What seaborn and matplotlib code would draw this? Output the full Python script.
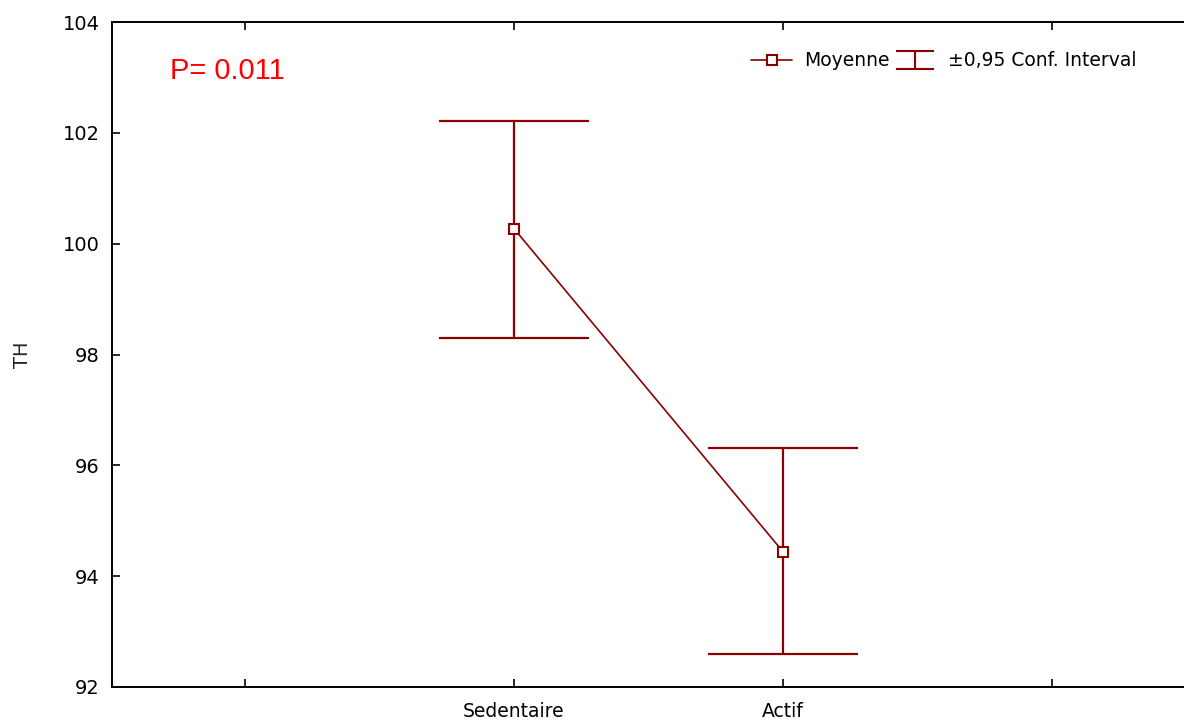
import matplotlib
matplotlib.use("Agg")
import matplotlib.pyplot as plt
from matplotlib.lines import Line2D
from matplotlib.path import Path
import numpy as np
import pandas as pd
import seaborn as sns

# Group means of TH with their 95% confidence limits
groups = ["Sedentaire", "Actif"]
means = [100.27, 94.44]
ci_low = [98.30, 92.60]
ci_high = [102.21, 96.31]
p_label = "P= 0.011"

# Category slots on the x axis (empty slots at both ends)
x_ticks = [0, 1, 2, 3]
x_tick_labels = ["", "Sedentaire", "Actif", ""]
y_ticks = [92, 94, 96, 98, 100, 102, 104]

sns.set_style("white")
plt.rcParams["font.family"] = ["DejaVu Sans"]

dark_red = "#8b0000"

fig = plt.figure(figsize=(11.84, 7.22), dpi=100)
ax = fig.add_axes([112 / 1184, 1 - 687 / 722, 1 - 112 / 1184, 665 / 722])

df = pd.DataFrame({"x": [1, 2], "group": groups, "mean": means,
                   "low": ci_low, "high": ci_high})

sns.lineplot(data=df, x="x", y="mean", ax=ax, color=dark_red, linewidth=1.2,
             marker="s", markersize=7, markerfacecolor="white",
             markeredgecolor=dark_red, markeredgewidth=1.5, zorder=3)

yerr = np.vstack([df["mean"] - df["low"], df["high"] - df["mean"]])
ax.errorbar(df["x"], df["mean"], yerr=yerr, fmt="none", ecolor=dark_red,
            elinewidth=1.6, capsize=54.3, capthick=1.6, zorder=2)

ax.set_xlim(-0.494, 3.49)
ax.set_ylim(92, 104)
ax.set_xticks(x_ticks)
ax.set_xticklabels(x_tick_labels)
ax.set_yticks(y_ticks)
ax.set_xlabel("")
ax.set_ylabel("TH", fontsize=14, labelpad=22)

for side in ["left", "bottom", "top"]:
    ax.spines[side].set_linewidth(1.4)
    ax.spines[side].set_color("black")
ax.spines["right"].set_visible(False)

ax.tick_params(axis="x", which="both", direction="in", length=6, width=1.4,
               top=True, bottom=True, labelsize=13.5, pad=11, labelcolor="black")
ax.tick_params(axis="y", which="both", direction="in", length=6, width=1.4,
               left=True, right=False, labelsize=14, pad=9, labelcolor="black")

ax.text(0.054, 0.914, p_label, transform=ax.transAxes, color="red",
        fontsize=21, ha="left", va="baseline", family="Liberation Sans")

# Legend: mean marker and the I-shaped confidence interval symbol
ci_path = Path([(-1, 0.5), (1, 0.5), (0, 0.5), (0, -0.5), (-1, -0.5), (1, -0.5)],
               [Path.MOVETO, Path.LINETO, Path.MOVETO, Path.LINETO,
                Path.MOVETO, Path.LINETO])
h_mean = Line2D([], [], color=dark_red, linewidth=1.2, marker="s", markersize=7,
                markerfacecolor="white", markeredgecolor=dark_red,
                markeredgewidth=1.5)
h_ci = Line2D([], [], linestyle="none", marker=ci_path, markersize=27,
              markeredgecolor=dark_red, markerfacecolor="none",
              markeredgewidth=1.5)
fig.legend([h_mean, h_ci], ["Moyenne", "\u00b10,95 Conf. Interval"],
           loc="center left", bbox_to_anchor=(751 / 1184, 1 - 61 / 722),
           ncol=2, frameon=False, fontsize=13.5, handlelength=2.2,
           handletextpad=0.65, columnspacing=0.25, borderpad=0,
           borderaxespad=0, labelcolor="black")

fig.savefig("out.png", dpi=100, facecolor="white")
